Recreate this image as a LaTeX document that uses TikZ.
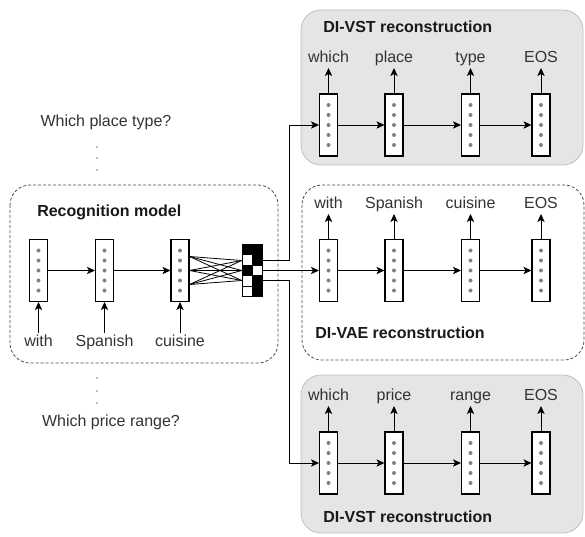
\documentclass[tikz,border=0pt]{standalone}
\usepackage{fontspec}
\setmainfont{Liberation Sans}
\usetikzlibrary{arrows.meta}

\begin{document}
\begin{tikzpicture}[x=0.75pt,y=-0.75pt,
	cell/.style={draw,fill=white,line width=0.8pt,minimum width=13.5pt,minimum height=46.5pt,inner sep=0pt,
		path picture={\foreach \k in {-2,...,2} \fill[gray] ([yshift=\k*7.5pt]path picture bounding box.center) circle [radius=1.5pt];}},
	word/.style={font=\fontsize{12}{14}\selectfont,text=black!80,inner sep=1.25pt,text height=9pt,text depth=2.5pt},
	title/.style={font=\fontsize{12}{14}\selectfont\bfseries,text=black!90,inner sep=0pt,anchor=west},
	arr/.style={-{Stealth[length=6pt,width=5.5pt,inset=1.5pt]},line width=0.75pt},
	wire/.style={line width=0.6pt},
	dashbox/.style={draw=black!70,dash pattern=on 2.25pt off 1.5pt,rounded corners=15pt,line width=0.6pt},
	greybox/.style={draw=black!25,fill=black!10,rounded corners=15pt,line width=0.6pt}]
	\useasboundingbox (0,0) rectangle (585,536);

	%Frames
	\draw [dashbox] (10,185) rectangle (278,363);
	\draw [greybox] (301,10) rectangle (583,165);
	\draw [dashbox] (302,185) rectangle (584,360);
	\draw [greybox] (301,375) rectangle (583,533);

	%Questions
	\node [word] (q1) at (106,122) {Which place type?};
	\node [word] (q2) at (111,422) {Which price range?};
	\foreach \y in {147,158,170,378,391,403}
		\fill [gray] (97,\y) circle [radius=0.7pt];

	%Titles
	\node [title] (rtitle) at (37,212) {Recognition model};
	\node [title] (ttitle) at (323,27) {DI-VST reconstruction};
	\node [title] (mtitle) at (315,333) {DI-VAE reconstruction};
	\node [title] (btitle) at (323,517) {DI-VST reconstruction};

	%Recognition model
	\foreach \x/\w [count=\i] in {38.5/with,104.5/Spanish,180/cuisine} {
		\node [cell] (r\i) at (\x,270.5) {};
		\node [word,anchor=north] (rw\i) at (\x,333) {\w};
		\draw [arr] (rw\i) -- (r\i);
	}
	\draw [arr] (r1) -- (r2);
	\draw [arr] (r2) -- (r3);

	%Latent code
	\node [minimum width=15pt,minimum height=39.375pt,inner sep=0pt] (z) at (252,270.5) {};
	\foreach \f [count=\r from 0] in {black,white,black,white,white}
		\draw [fill=\f,line width=0.6pt] (242,244+10.5*\r) rectangle ++(10,10.5);
	\foreach \f [count=\r from 0] in {black,black,white,black,black}
		\draw [fill=\f,line width=0.6pt] (252,244+10.5*\r) rectangle ++(10,10.5);
	\foreach \a in {-10.5,0,10.5}
		\foreach \b in {-7.5,0,7.5}
			\draw [wire] ([yshift=\a pt]r3.east) -- ([yshift=\b pt]z.west);

	%Decoders
	\foreach \x/\w [count=\i] in {328.5/which,394/place,470.5/type,541/EOS} {
		\node [cell] (t\i) at (\x,125) {};
		\node [word,anchor=south] (tw\i) at (\x,68) {\w};
		\draw [arr] (t\i) -- (tw\i);
	}
	\foreach \x/\w [count=\i] in {328.5/with,394/Spanish,470.5/cuisine,541/EOS} {
		\node [cell] (m\i) at (\x,270.5) {};
		\node [word,anchor=south] (mw\i) at (\x,214) {\w};
		\draw [arr] (m\i) -- (mw\i);
	}
	\foreach \x/\w [count=\i] in {328.5/which,394/price,470.5/range,541/EOS} {
		\node [cell] (b\i) at (\x,463) {};
		\node [word,anchor=south] (bw\i) at (\x,406) {\w};
		\draw [arr] (b\i) -- (bw\i);
	}
	\foreach \i/\j in {1/2,2/3,3/4} {
		\draw [arr] (t\i) -- (t\j);
		\draw [arr] (m\i) -- (m\j);
		\draw [arr] (b\i) -- (b\j);
	}

	%Links from the code
	\coordinate (zt) at ([yshift=7.5pt]z.east);
	\coordinate (zb) at ([yshift=-7.5pt]z.east);
	\coordinate (bend) at (289,0);
	\draw [arr] (zt) -| (bend |- t1) -- (t1);
	\draw [arr] (z) -- (m1);
	\draw [arr] (zb) -| (bend |- b1) -- (b1);
\end{tikzpicture}
\end{document}
